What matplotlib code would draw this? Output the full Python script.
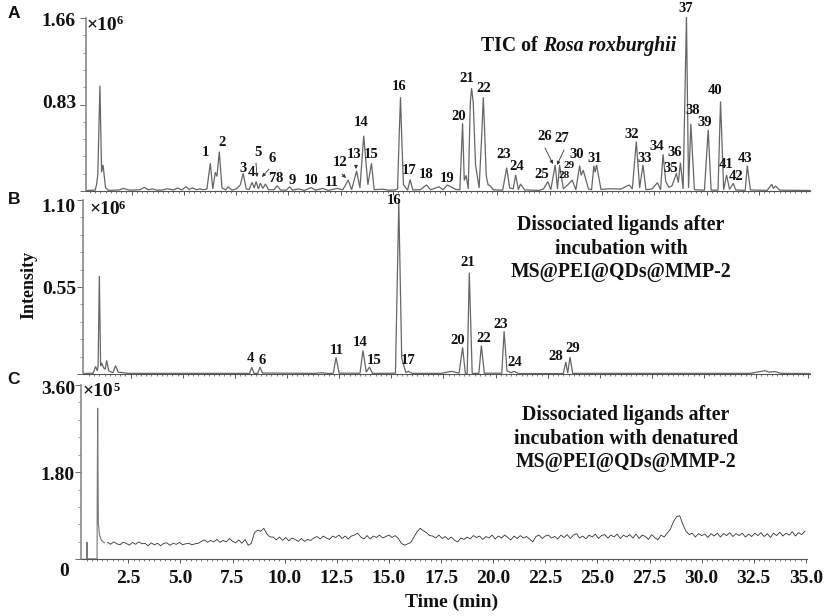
import numpy as np
import matplotlib
matplotlib.use('Agg')
import matplotlib.pyplot as plt
from matplotlib.transforms import Affine2D

plt.rcParams['font.family'] = ['Liberation Serif', 'DejaVu Serif']
plt.rcParams['font.weight'] = 'bold'

W, H = 829, 616

# --- panel A, TIC (x1e6) ---
a_time = [0.30, 0.75, 0.82, 0.88, 0.98, 1.06, 1.13, 1.25, 1.4, 1.9, 2.1, 2.4,
          2.9, 3.1, 3.3, 3.5, 3.7, 4.0, 4.2, 4.5, 4.7, 4.9, 5.1, 5.25, 5.4, 5.6,
          5.75, 5.95, 6.1, 6.26, 6.38, 6.5, 6.58, 6.69, 6.82, 7.0, 7.1, 7.3, 7.5,
          7.7, 7.83, 7.98, 8.12, 8.26, 8.36, 8.45, 8.56, 8.66, 8.78, 8.9, 9.05,
          9.3, 9.46, 9.62, 9.9, 10.05, 10.2, 10.5, 10.75, 11.09, 11.3, 11.63, 11.9,
          12.33, 12.6, 12.86, 13.02, 13.26, 13.42, 13.6, 13.8, 13.97, 14.1, 14.5, 14.8,
          15.1, 15.22, 15.3, 15.36, 15.42, 15.5, 15.7, 15.82, 15.95, 16.3, 16.6, 16.8, 17.2, 17.4,
          17.6, 18.0, 18.2, 18.33, 18.41, 18.5, 18.6, 18.7, 18.76, 18.84, 18.95, 19.12, 19.25, 19.32, 19.38, 19.46,
          19.55, 19.65, 19.8, 20.25, 20.44, 20.58, 20.75, 20.87, 21.0, 21.1, 21.3, 22.0,
          22.2, 22.41, 22.55, 22.76, 22.87, 22.97, 23.15, 23.44, 23.57, 23.75, 23.93,
          24.0, 24.1, 24.35, 24.5, 24.61, 24.67, 24.74, 24.95, 25.4, 25.9, 26.3, 26.45,
          26.64, 26.8, 26.96, 27.1, 27.4, 27.65, 27.8, 27.92, 28.05, 28.2, 28.35, 28.56,
          28.65, 28.75, 28.88, 29.04, 29.14, 29.25, 29.42, 29.9, 30.08, 30.22, 30.55,
          30.67, 30.82, 30.96, 31.1, 31.28, 31.4, 31.85, 31.95, 32.1, 32.9, 33.12, 33.2,
          33.3, 33.5, 34.95]
a_signal = [0.005, 0.008, 0.06, 0.16, 1.01, 0.18, 0.25, 0.03, 0.006, 0.01, 0.025, 0.008,
            0.012, 0.035, 0.012, 0.02, 0.008, 0.01, 0.022, 0.01, 0.028, 0.01, 0.042, 0.014, 0.03, 0.012,
            0.02, 0.012, 0.02, 0.266, 0.02, 0.18, 0.14, 0.378, 0.03, 0.01, 0.04, 0.008, 0.02,
            0.06, 0.17, 0.02, 0.015, 0.083, 0.03, 0.09, 0.02, 0.075, 0.025, 0.067, 0.012,
            0.012, 0.05, 0.01, 0.008, 0.04, 0.008, 0.02, 0.006, 0.032, 0.008, 0.025, 0.006,
            0.025, 0.012, 0.105, 0.012, 0.192, 0.03, 0.53, 0.06, 0.266, 0.012, 0.018, 0.008,
            0.01, 0.02, 0.55, 0.9, 0.5, 0.06, 0.008, 0.11, 0.01, 0.012, 0.058, 0.012, 0.04, 0.012,
            0.058, 0.015, 0.012, 0.65, 0.1, 0.15, 0.02, 0.85, 0.987, 0.85, 0.25, 0.03, 0.55, 0.9, 0.6, 0.15,
            0.06, 0.05, 0.012, 0.008, 0.224, 0.03, 0.02, 0.154, 0.012, 0.067, 0.01, 0.006,
            0.02, 0.09, 0.012, 0.25, 0.02, 0.25, 0.02, 0.075, 0.105, 0.012, 0.243,
            0.15, 0.2, 0.02, 0.012, 0.243, 0.18, 0.25, 0.015, 0.022, 0.018, 0.058, 0.02,
            0.474, 0.03, 0.25, 0.012, 0.02, 0.08, 0.012, 0.352, 0.09, 0.035, 0.05, 0.17,
            0.08, 0.272, 0.02, 1.67, 0.03, 0.644, 0.012, 0.008, 0.586, 0.008, 0.008,
            0.859, 0.012, 0.154, 0.015, 0.074, 0.01, 0.006, 0.243, 0.01, 0.006, 0.064, 0.025,
            0.048, 0.008, 0.005]

# --- panel B, dissociated ligands (x1e6) ---
b_time = [0.25, 0.7, 0.82, 0.9, 0.94, 1.0, 1.06, 1.11, 1.2, 1.28, 1.35, 1.45, 1.65, 1.78, 1.9,
          2.4, 8.2, 8.31, 8.42, 8.6, 8.7, 8.82, 11.3, 11.66, 12.0, 12.22, 12.35, 12.5, 13.5,
          13.64, 13.8, 13.95, 14.1, 15.2, 15.36, 15.5, 15.7, 15.82, 16.0, 17.4, 17.9,
          18.25, 18.42, 18.55, 18.64, 18.74, 18.88, 19.2, 19.32, 19.46, 20.3, 20.41,
          20.55, 20.75, 20.89, 21.1, 23.25, 23.37, 23.46, 23.57, 23.7, 32.2, 32.93, 33.1,
          33.4, 33.7, 35.08]
b_signal = [0.003, 0.005, 0.048, 0.02, 0.05, 0.62, 0.05, 0.07, 0.04, 0.03, 0.086, 0.02, 0.008, 0.053, 0.012,
            0.004, 0.004, 0.042, 0.004, 0.004, 0.044, 0.006, 0.004, 0.008, 0.003, 0.005, 0.105, 0.005, 0.005,
            0.149, 0.012, 0.044, 0.004, 0.005, 1.08, 0.1, 0.008, 0.017, 0.004, 0.004, 0.017,
            0.005, 0.168, 0.004, 0.004, 0.64, 0.004, 0.004, 0.18, 0.005, 0.005, 0.27,
            0.02, 0.008, 0.017, 0.003, 0.003, 0.076, 0.005, 0.107, 0.004, 0.004, 0.021, 0.012,
            0.015, 0.004, 0.003]

# --- panel C, denatured control (x1e5) ---
c_spike_time = [0.23, 0.50, 0.52, 0.54, 1.0, 1.01, 1.03, 1.06, 1.12, 1.2, 1.35]
c_spike_signal = [0.0, 0.0, 0.35, 0.01, 0.01, 1.5, 3.12, 0.75, 0.5, 0.4, 0.34]
c_noisy = [.35, .31, .36, .32, .30, .35, .33, .29, .35, .31, .36, .32, .33, .28, .34, .30, .33, .28,
           .33, .34, .29, .33, .31, .35, .30, .32, .33,
           .30, .32, .33, .37, .40, .35, .39, .36, .41, .35, .39, .36, .43, .37, .34, .40, .33, .41,
           .29, .33, .55, .60, .58, .64, .52, .46,
           .46, .40, .46, .39, .45, .38, .44, .41, .37, .43, .37, .41,
           .39, .44, .47, .42, .48, .44, .41, .48, .45, .50, .43, .48, .42, .48,
           .50, .54, .46, .42,
           .49, .42, .48, .45, .50, .44, .47, .50, .45, .49,
           .43, .33, .29, .32, .35, .46, .57, .64, .59, .55, .49,
           .48, .44, .50, .43, .47, .41, .46, .39,
           .36, .44, .41,
           .46, .42, .49, .45, .48, .41, .47, .44, .50, .42, .48, .44, .50, .45, .40, .48, .43, .49,
           .44, .47, .42, .36, .47, .50, .43, .48, .50, .44, .47, .42, .50, .45, .51, .43, .50, .53,
           .44, .48, .42, .50, .46, .52, .43, .49, .51, .44, .50, .46, .52, .43, .50, .46, .51, .44,
           .52, .43, .50, .47, .41, .51, .45, .40, .50, .46,
           .54, .62, .78, .88, .90, .72, .58, .51,
           .54, .46, .53, .49, .52, .45, .53, .48, .54, .46, .53, .49, .55, .47, .53, .49, .54, .46,
           .52, .47, .54, .49, .55, .47, .53, .45, .54, .49, .56, .48, .54, .50, .57, .48, .55, .51, .58]
c_time = 1.5 + 0.15 * np.arange(len(c_noisy))

x_major = [2.5, 5.0, 7.5, 10.0, 12.5, 15.0, 17.5, 20.0, 22.5, 25.0, 27.5, 30.0, 32.5, 35.0]

peak_labels_a = ['1', '2', '3', '4', '5', '6', '7', '8', '9', '10', '11', '12', '13', '14', '15', '16', '17',
                 '18', '19', '20', '21', '22', '23', '24', '25', '26', '27', '28', '29', '30', '31', '32',
                 '33', '34', '35', '36', '37', '38', '39', '40', '41', '42', '43']
peak_labels_b = ['16', '4', '6', '11', '14', '15', '17', '20', '21', '22', '23', '24', '28', '29']

# label centres in picture pixels, same order as the label lists
pos_a = [(205, 153), (222, 142), (243, 168), (251, 173), (258, 152), (272, 158), (272, 178), (279, 178),
         (292, 180), (311, 180), (332, 182), (340, 162), (354, 154), (361, 123), (371, 155), (399, 87),
         (409, 171), (426, 174), (447, 179), (459, 117), (467, 79), (484, 88), (504, 155), (517, 167),
         (542, 174), (545, 137), (562, 138), (564, 176), (569, 165), (577, 155), (595, 159), (632, 135),
         (645, 158), (657, 147), (671, 168), (675, 152), (686, 9), (693, 111), (705, 123), (715, 91),
         (726, 164), (736, 176), (745, 159)]
pos_b = [(394, 201), (250, 359), (262, 360), (337, 351), (360, 342), (374, 361), (408, 360), (458, 341),
         (468, 262), (484, 339), (501, 324), (515, 363), (556, 357), (573, 348)]

fig = plt.figure(figsize=(W / 100, H / 100), dpi=100, facecolor='white')
# picture pixel coordinates, y going down
px = Affine2D().scale(1, -1).translate(0, H)


def add_panel(left, right, top, bottom, xlim, ymax, y_minor):
    ax = fig.add_axes([left / W, 1 - bottom / H, (right - left) / W, (bottom - top) / H])
    ax.set_xlim(xlim)
    ax.set_ylim(0, ymax)
    ax.spines['top'].set_visible(False)
    ax.spines['right'].set_visible(False)
    ax.spines['left'].set_color('#8a8a8a')
    ax.spines['left'].set_linewidth(1.2)
    ax.spines['bottom'].set_color('#555555')
    ax.spines['bottom'].set_linewidth(0.8)
    ax.set_yticks([0, ymax / 2, ymax], labels=[])
    ax.set_yticks(y_minor, minor=True)
    ax.tick_params(axis='y', which='major', length=4, width=0.7, color='#666666')
    ax.tick_params(axis='y', which='minor', length=2, width=0.6, color='#888888')
    ax.set_xticks([t for t in x_major if t <= xlim[1]], labels=[])
    ax.set_xticks(np.arange(0.5, xlim[1], 0.25), minor=True)
    ax.tick_params(axis='x', which='major', length=3, width=0.7, color='#555555')
    ax.tick_params(axis='x', which='minor', length=1.6, width=0.6, color='#666666')
    return ax


ax_a = add_panel(85.7, 810, 18, 191, (0.30, 34.95), 1.66, np.arange(0.166, 1.66, 0.166))
ax_b = add_panel(83.3, 810, 200, 374, (0.23, 35.08), 1.10, np.arange(0.11, 1.10, 0.11))
ax_c = add_panel(81, 806.7, 385, 559.3, (0.23, 35.04), 3.60, np.arange(0.36, 3.60, 0.36))

line_kw = dict(color='#666666', linewidth=0.9, clip_on=False, solid_joinstyle='miter')
ax_a.plot(a_time, a_signal, **line_kw)
ax_b.plot(b_time, b_signal, **line_kw)
ax_c.plot(c_spike_time, c_spike_signal, color='#777777', linewidth=0.8)
ax_c.plot(c_time, c_noisy, color='#333333', linewidth=0.6)

ax_c.set_xticks(x_major, labels=[f'{t:.1f}' for t in x_major])
ax_c.tick_params(axis='x', which='major', labelsize=14, pad=5, labelcolor='#111111')


def put(x, y, s, size=14, ha='center', va='center', **kw):
    kw.setdefault('color', '#111111')
    kw.setdefault('fontweight', 'bold')
    return fig.text(x, y, s, transform=px, fontsize=size, ha=ha, va=va, **kw)


for lab, (x, y) in zip(peak_labels_a, pos_a):
    put(x, y, lab, size=8 if lab in ('28', '29') else 10.5)
for lab, (x, y) in zip(peak_labels_b, pos_b):
    put(x, y, lab, size=10.5)

# y tick labels, set a little off their ticks as in the figure
for x, y, s in [(76, 21, '1.66'), (76, 103, '0.83'), (76, 207, '1.10'), (76, 290, '0.55'),
                (75, 390, '3.60'), (75, 475, '1.80'), (69, 571, '0')]:
    put(x, y, s, size=14, ha='right')

for x, y, sup, ys, xs in [(87, 26, '6', 21, 117), (90, 210, '6', 206, 119), (83, 392, '5', 388, 114)]:
    put(x, y, '×10', size=14, ha='left')
    put(xs, ys, sup, size=9, ha='left')

for y, s in [(14, 'A'), (200, 'B'), (379, 'C')]:
    put(14, y, s, size=12.5, family='Liberation Sans')

put(29, 285, 'Intensity', size=13, rotation=90)
put(452, 602, 'Time (min)', size=14)

put(481, 46, 'TIC of ', size=14.2, ha='left')
put(543, 46, 'Rosa roxburghii', size=14.2, ha='left', fontstyle='italic')
for y, s in [(225, 'Dissociated ligands after'), (249, 'incubation with'), (272, 'MS@PEI@QDs@MMP-2')]:
    put(621, y, s, size=14.2)
for y, s in [(415, 'Dissociated ligands after'), (439, 'incubation with denatured'), (462, 'MS@PEI@QDs@MMP-2')]:
    put(626, y, s, size=14.2)

# arrows to the crowded peaks
for start, end in [((256, 163), (257, 177)), ((269, 169), (262, 177)), ((342, 174), (346, 178)),
                   ((356, 165), (356, 169)), ((545, 148), (553, 164)), ((564, 150), (557, 165))]:
    fig.add_artist(plt.Annotation('', xy=end, xytext=start, xycoords=px, textcoords=px,
                                  arrowprops=dict(arrowstyle='-|>', color='#333333', lw=0.6,
                                                  mutation_scale=5, shrinkA=0, shrinkB=0)))

fig.savefig('out.png', dpi=100, facecolor='white')
